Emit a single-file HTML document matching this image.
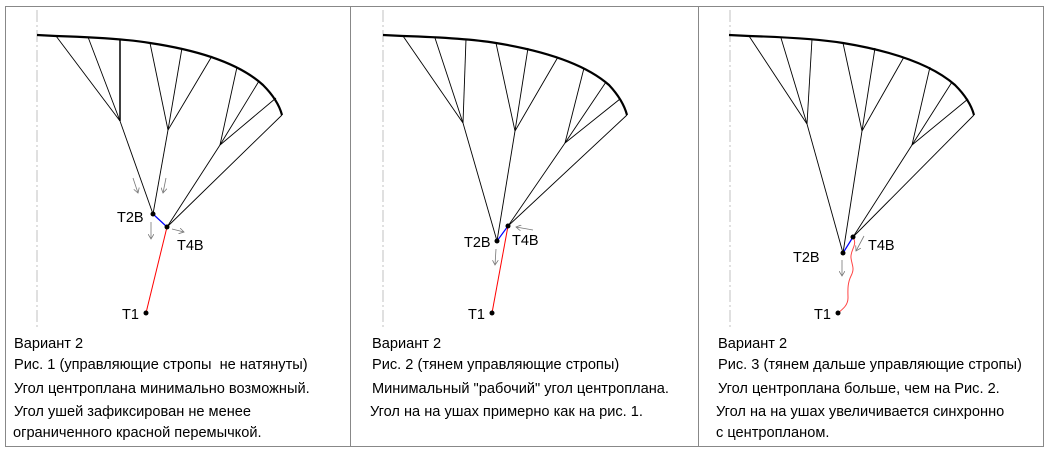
<!DOCTYPE html>
<html><head><meta charset="utf-8"><style>
html,body{margin:0;padding:0;background:#fff}
svg{display:block}
text{font-family:"Liberation Sans",Arial,sans-serif;fill:#000}
.t{font-size:14.6px}
.l{font-size:14.5px}
</style></head><body>
<svg width="1048" height="451" viewBox="0 0 1048 451" xmlns="http://www.w3.org/2000/svg">
<defs>
<marker id="a" markerWidth="6" markerHeight="6" refX="5" refY="3" orient="auto" markerUnits="userSpaceOnUse">
<path d="M0,0 L5,3 L0,6" fill="none" stroke="#777" stroke-width="0.8"/></marker>
</defs>
<rect x="5.5" y="6.5" width="1038" height="440" fill="none" stroke="#888" stroke-width="1"/>
<line x1="350.5" y1="6" x2="350.5" y2="447" stroke="#888"/>
<line x1="698.5" y1="6" x2="698.5" y2="447" stroke="#888"/>

<!-- Panel 1 -->
<g fill="none" stroke="#000" stroke-width="0.9">
<line x1="37" y1="10" x2="37" y2="330" stroke="#bbb" stroke-dasharray="12,3,2,3"/>
<path d="M37,35 L56,36 Q120,38 150,43 Q230,55 263,85 Q278,100 282,115" stroke-width="2.2"/>
<line x1="56" y1="36" x2="120" y2="121"/><line x1="88" y1="37" x2="120" y2="121"/>
<line x1="120" y1="39" x2="120" y2="121" stroke-width="1.5"/>
<line x1="120" y1="121" x2="153" y2="214"/>
<line x1="150" y1="43" x2="168" y2="130"/><line x1="182" y1="48" x2="168" y2="130"/><line x1="212" y1="56" x2="168" y2="130"/>
<line x1="168" y1="130" x2="153" y2="214"/>
<line x1="237" y1="67" x2="220" y2="145"/><line x1="259" y1="81" x2="220" y2="145"/><line x1="276" y1="98" x2="220" y2="145"/>
<line x1="220" y1="145" x2="167" y2="227"/><line x1="282" y1="115" x2="167" y2="227"/>
<line x1="153" y1="214" x2="167" y2="227" stroke="#00f" stroke-width="1.2"/>
<line x1="167" y1="227" x2="146" y2="313" stroke="#f00" stroke-width="1"/>
<g stroke="#777" stroke-width="0.8" marker-end="url(#a)">
<line x1="133" y1="178" x2="138" y2="193"/><line x1="166" y1="178" x2="163" y2="193"/>
<line x1="151" y1="222" x2="151" y2="239"/><line x1="172" y1="229" x2="184" y2="232"/>
</g></g>
<circle cx="153" cy="214" r="2.5"/><circle cx="167" cy="227" r="2.5"/><circle cx="146" cy="313" r="2.5"/>
<text class="l" x="117" y="222">T2B</text><text class="l" x="177" y="250">T4B</text><text class="l" x="122" y="319">T1</text>
<text class="t" x="14" y="348">Вариант 2</text>
<text class="t" x="14" y="369">Рис. 1 (управляющие стропы&#160; не натянуты)</text>
<text class="t" x="14" y="393">Угол центроплана минимально возможный.</text>
<text class="t" x="14" y="416">Угол ушей зафиксирован не менее</text>
<text class="t" x="13" y="437">ограниченного красной перемычкой.</text>

<!-- Panel 2 -->
<g fill="none" stroke="#000" stroke-width="0.9">
<line x1="383" y1="10" x2="383" y2="330" stroke="#bbb" stroke-dasharray="12,3,2,3"/>
<path d="M383,35 L403,36 Q466,38 496,43 Q576,56 609,85 Q623,100 627,115" stroke-width="2.2"/>
<line x1="403" y1="36" x2="463" y2="123"/><line x1="435" y1="38" x2="463" y2="123"/><line x1="466" y1="39" x2="463" y2="123"/>
<line x1="463" y1="123" x2="497" y2="241"/>
<line x1="496" y1="43" x2="515" y2="131"/><line x1="528" y1="48" x2="515" y2="131"/><line x1="558" y1="57" x2="515" y2="131"/>
<line x1="515" y1="131" x2="497" y2="241"/>
<line x1="584" y1="68" x2="565" y2="143"/><line x1="606" y1="82" x2="565" y2="143"/><line x1="620" y1="99" x2="565" y2="143"/>
<line x1="565" y1="143" x2="508" y2="226"/><line x1="627" y1="115" x2="508" y2="226"/>
<line x1="497" y1="241" x2="508" y2="226" stroke="#00f" stroke-width="1.2"/>
<line x1="508" y1="226" x2="492" y2="313" stroke="#f00" stroke-width="1"/>
<g stroke="#777" stroke-width="0.8" marker-end="url(#a)">
<line x1="496" y1="249" x2="495" y2="265"/><line x1="533" y1="230" x2="516" y2="227"/>
</g></g>
<circle cx="497" cy="241" r="2.5"/><circle cx="508" cy="226" r="2.5"/><circle cx="492" cy="313" r="2.5"/>
<text class="l" x="464" y="247">T2B</text><text class="l" x="512" y="245">T4B</text><text class="l" x="468" y="319">T1</text>
<text class="t" x="372" y="348">Вариант 2</text>
<text class="t" x="372" y="369">Рис. 2 (тянем управляющие стропы)</text>
<text class="t" x="372" y="393">Минимальный "рабочий" угол центроплана.</text>
<text class="t" x="370" y="416">Угол на на ушах примерно как на рис. 1.</text>

<!-- Panel 3 -->
<g fill="none" stroke="#000" stroke-width="0.9">
<line x1="730" y1="10" x2="730" y2="330" stroke="#bbb" stroke-dasharray="12,3,2,3"/>
<path d="M729,35 L749,36 Q812,38 843,43 Q922,56 955,85 Q970,100 974,115" stroke-width="2.2"/>
<line x1="749" y1="36" x2="807" y2="124"/><line x1="781" y1="38" x2="807" y2="124"/><line x1="812" y1="39" x2="807" y2="124"/>
<line x1="807" y1="124" x2="843" y2="253"/>
<line x1="843" y1="43" x2="862" y2="131"/><line x1="875" y1="48" x2="862" y2="131"/><line x1="904" y1="57" x2="862" y2="131"/>
<line x1="862" y1="131" x2="843" y2="253"/>
<line x1="930" y1="67" x2="912" y2="145"/><line x1="952" y1="82" x2="912" y2="145"/><line x1="968" y1="99" x2="912" y2="145"/>
<line x1="912" y1="145" x2="853" y2="237"/><line x1="974" y1="115" x2="853" y2="237"/>
<line x1="843" y1="253" x2="853" y2="237" stroke="#00f" stroke-width="1.2"/>
<path d="M853,237 C858,245 850,250 851,258 C852,266 855,268 851,276 C847,284 848,292 848,298 C848,305 843,309 838,313" stroke="#f44" stroke-width="1"/>
<g stroke="#777" stroke-width="0.8" marker-end="url(#a)">
<line x1="842" y1="260" x2="842" y2="276"/><line x1="864" y1="236" x2="856" y2="251"/>
</g></g>
<circle cx="843" cy="253" r="2.5"/><circle cx="853" cy="237" r="2.5"/><circle cx="838" cy="313" r="2.5"/>
<text class="l" x="793" y="262">T2B</text><text class="l" x="868" y="250">T4B</text><text class="l" x="814" y="319">T1</text>
<text class="t" x="718" y="348">Вариант 2</text>
<text class="t" x="718" y="369">Рис. 3 (тянем дальше управляющие стропы)</text>
<text class="t" x="718" y="393">Угол центроплана больше, чем на Рис. 2.</text>
<text class="t" x="716" y="416">Угол на на ушах увеличивается синхронно</text>
<text class="t" x="716" y="437">с центропланом.</text>
</svg>
</body></html>
